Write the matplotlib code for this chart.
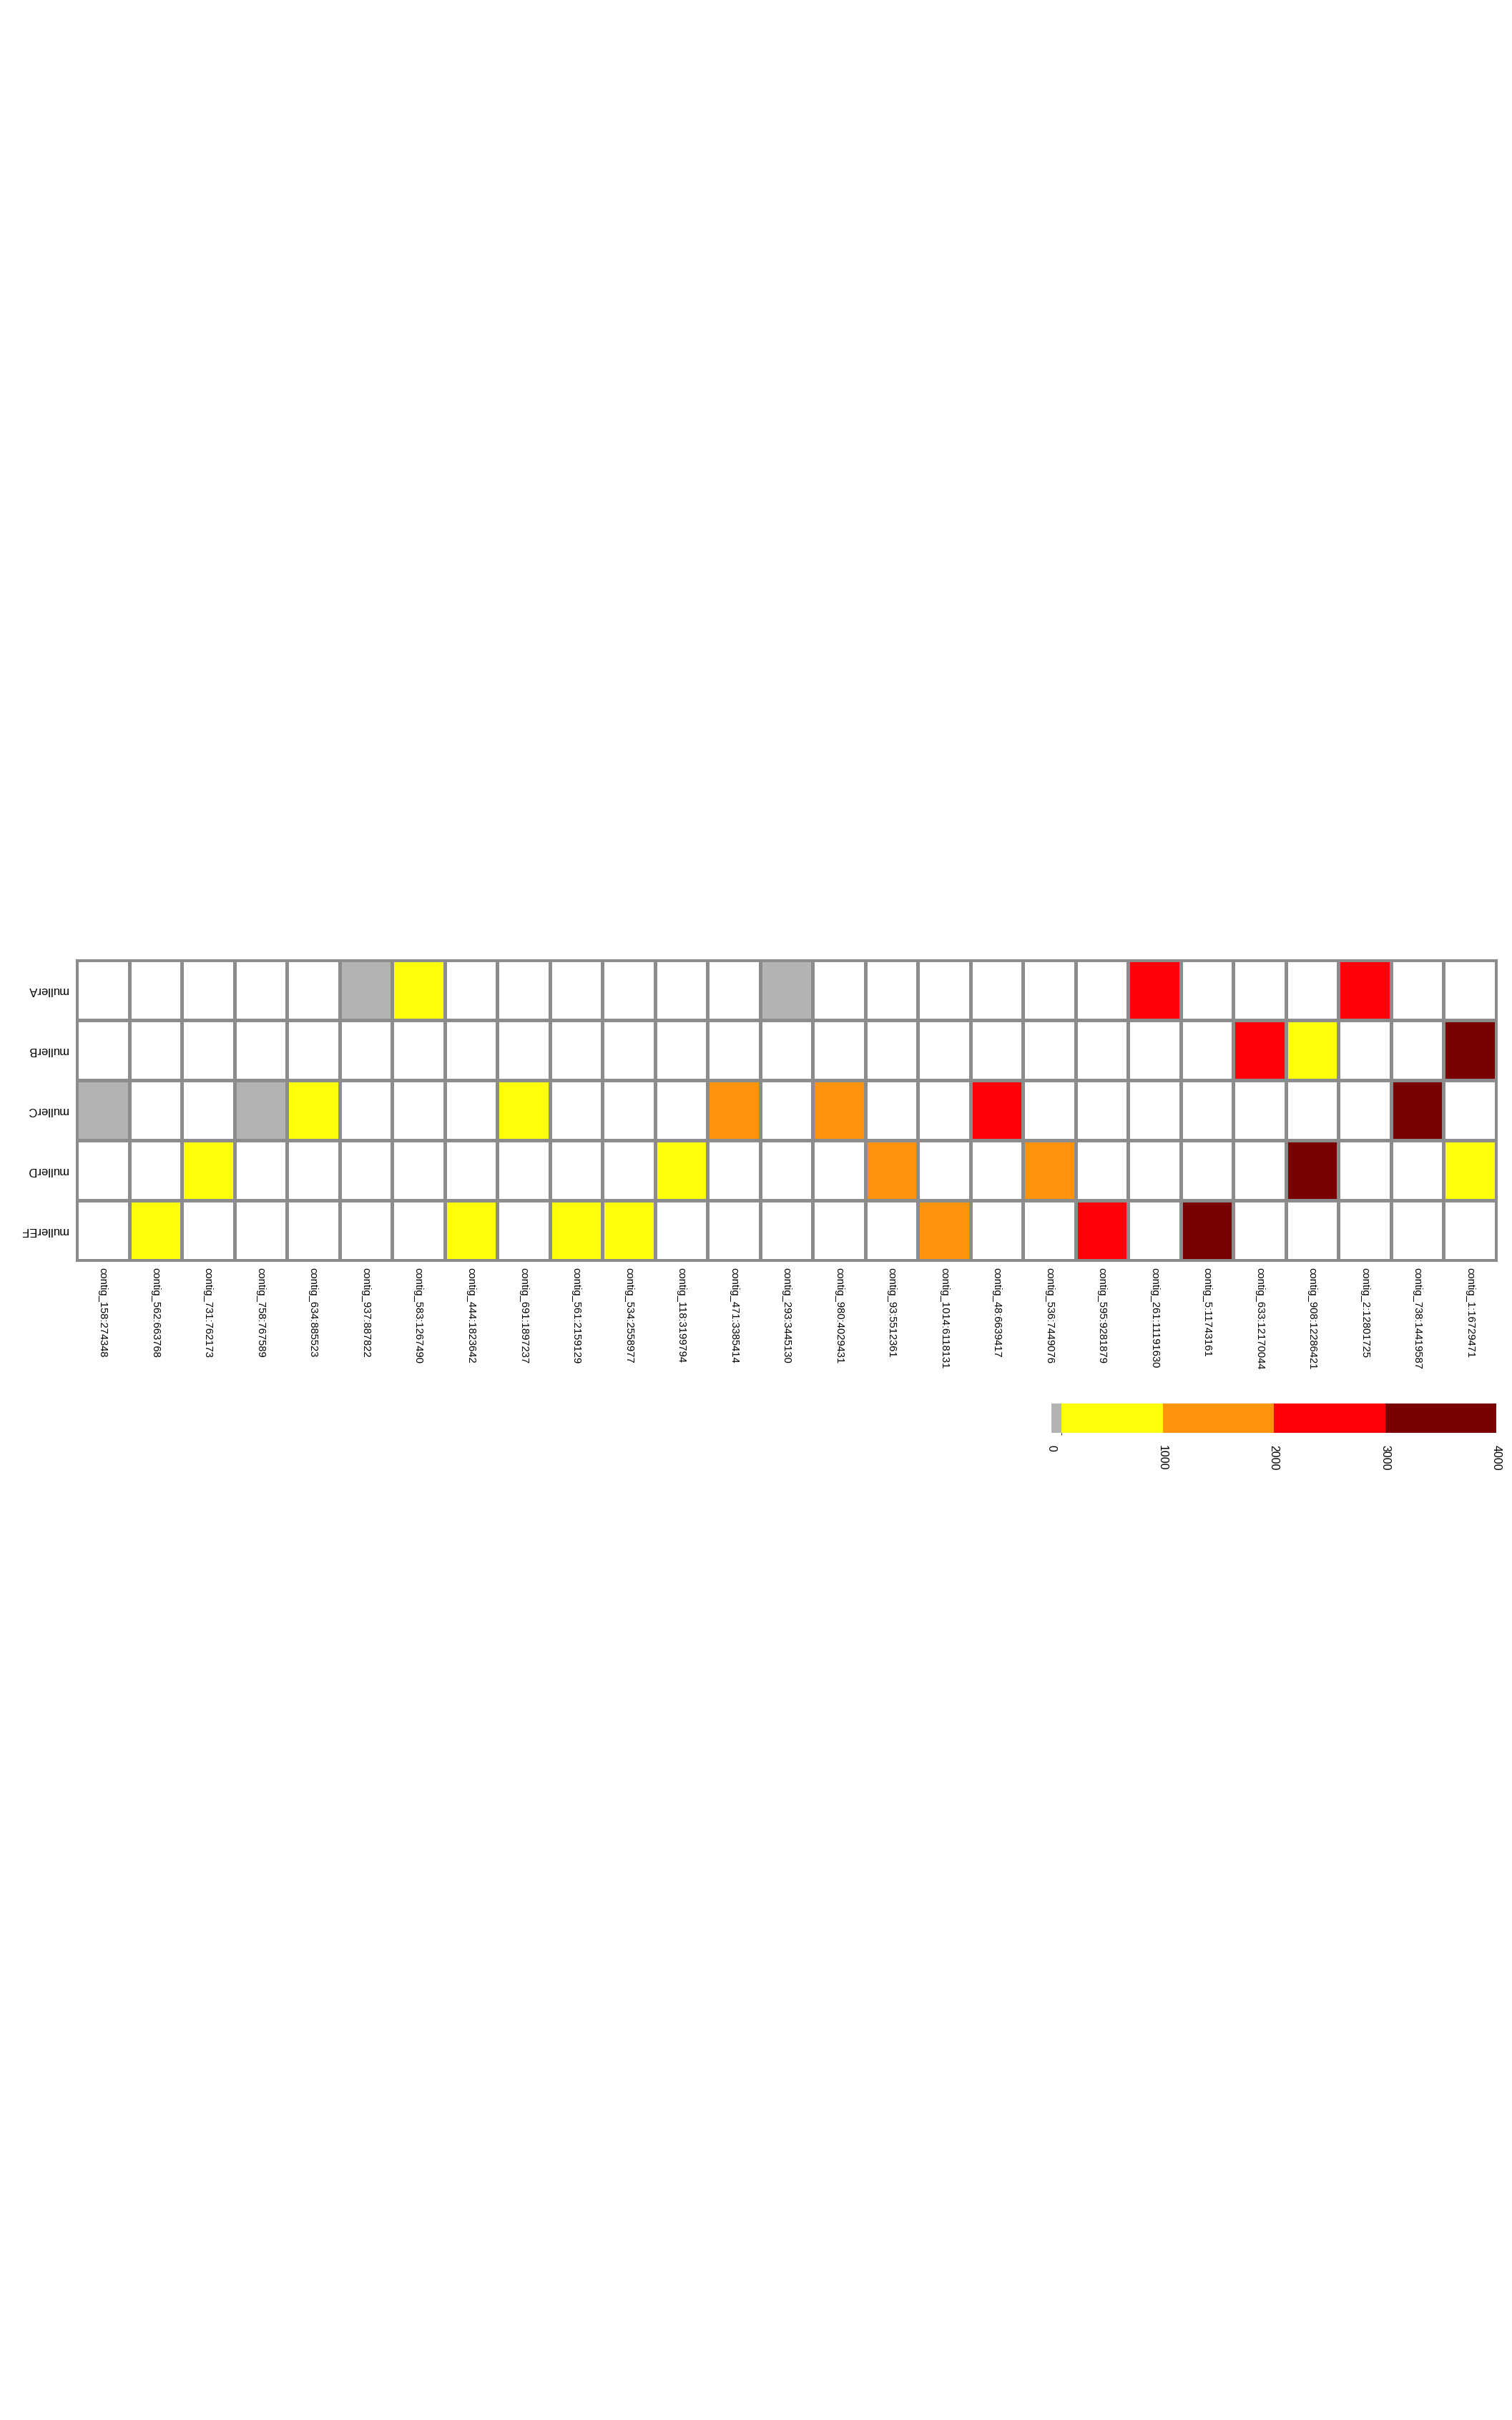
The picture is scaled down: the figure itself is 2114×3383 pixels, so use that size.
import numpy as np
import matplotlib
matplotlib.use("Agg")
import matplotlib.pyplot as plt
from matplotlib.colors import ListedColormap, BoundaryNorm
import matplotlib.colorbar as mcolorbar

plt.rcParams['font.family'] = ['Liberation Sans', 'DejaVu Sans']

contigs = ["contig_158:274348", "contig_562:663768", "contig_731:762173",
           "contig_758:767589", "contig_634:885523", "contig_937:887822",
           "contig_583:1267490", "contig_444:1823642", "contig_691:1897237",
           "contig_561:2159129", "contig_534:2558977", "contig_118:3199794",
           "contig_471:3385414", "contig_293:3445130", "contig_980:4029431",
           "contig_93:5512361", "contig_1014:6118131", "contig_48:6639417",
           "contig_536:7449076", "contig_595:9281879", "contig_261:11191630",
           "contig_5:11743161", "contig_633:12170044", "contig_908:12286421",
           "contig_2:12801725", "contig_738:14419587", "contig_1:16729471"]
mullers = ["mullerA", "mullerB", "mullerC", "mullerD", "mullerEF"]

# estimated values per element (nan = empty cell)
n = np.nan
mullerA  = [n, n, n, n, n, 50, 500, n, n, n, n, n, n, 50, n, n, n, n, n, n, 2500, n, n, n, 2500, n, n]
mullerB  = [n, n, n, n, n, n, n, n, n, n, n, n, n, n, n, n, n, n, n, n, n, n, 2500, 500, n, n, 3500]
mullerC  = [50, n, n, 50, 500, n, n, n, 500, n, n, n, 1500, n, 1500, n, n, 2500, n, n, n, n, n, n, n, 3500, n]
mullerD  = [n, n, 500, n, n, n, n, n, n, n, n, 500, n, n, n, 1500, n, n, 1500, n, n, n, n, 3500, n, n, 500]
mullerEF = [n, 500, n, n, n, n, n, 500, n, 500, 500, n, n, n, n, n, 1500, n, n, 2500, n, 3500, n, n, n, n, n]

breaks = [0, 90, 1000, 2000, 3000, 4000]
bin_colors = ["#b3b3b3", "#ffff0c", "#ff930c", "#ff0008", "#780000"]
tick_vals = [0, 1000, 2000, 3000, 4000]

data = np.ma.masked_invalid(np.array([mullerA, mullerB, mullerC, mullerD, mullerEF]))
cmap = ListedColormap(bin_colors)
cmap.set_bad("white")
norm = BoundaryNorm(breaks, cmap.N)

W, H = 2114, 3383
fig = plt.figure(figsize=(W / 100, H / 100), dpi=100)

ax = fig.add_axes([107 / W, 1 - 1762 / H, 1985 / W, 420 / H])
ax.pcolormesh(data, cmap=cmap, norm=norm, edgecolors="#8c8c8c", linewidth=2.2)
ax.set_xlim(0, len(contigs))
ax.set_ylim(len(mullers), 0)
ax.set_xticks(np.arange(len(contigs)) + 0.5)
ax.set_xticklabels(contigs, rotation=270, fontsize=10.6, ha="center", va="top")
ax.set_yticks(np.arange(len(mullers)) + 0.5)
ax.set_yticklabels(mullers, rotation=180, fontsize=12, ha="left", va="center",
                   rotation_mode="anchor")
ax.tick_params(axis="x", length=0, pad=7)
ax.tick_params(axis="y", length=0, pad=8.5)
for s in ax.spines.values():
    s.set_color("#8c8c8c")
    s.set_linewidth(2.2)

# colour key
cax = fig.add_axes([1470 / W, 1 - 2003 / H, 622 / W, 41 / H])
cb = mcolorbar.ColorbarBase(cax, cmap=ListedColormap(bin_colors), norm=norm,
                            boundaries=breaks, spacing="proportional",
                            orientation="horizontal", ticks=tick_vals)
cb.outline.set_visible(False)
cax.set_xticklabels([str(t) for t in tick_vals], rotation=270, fontsize=11.5,
                    ha="center", va="top")
cax.tick_params(length=0, pad=12)

fig.savefig("out.png", dpi=100, facecolor="white")
